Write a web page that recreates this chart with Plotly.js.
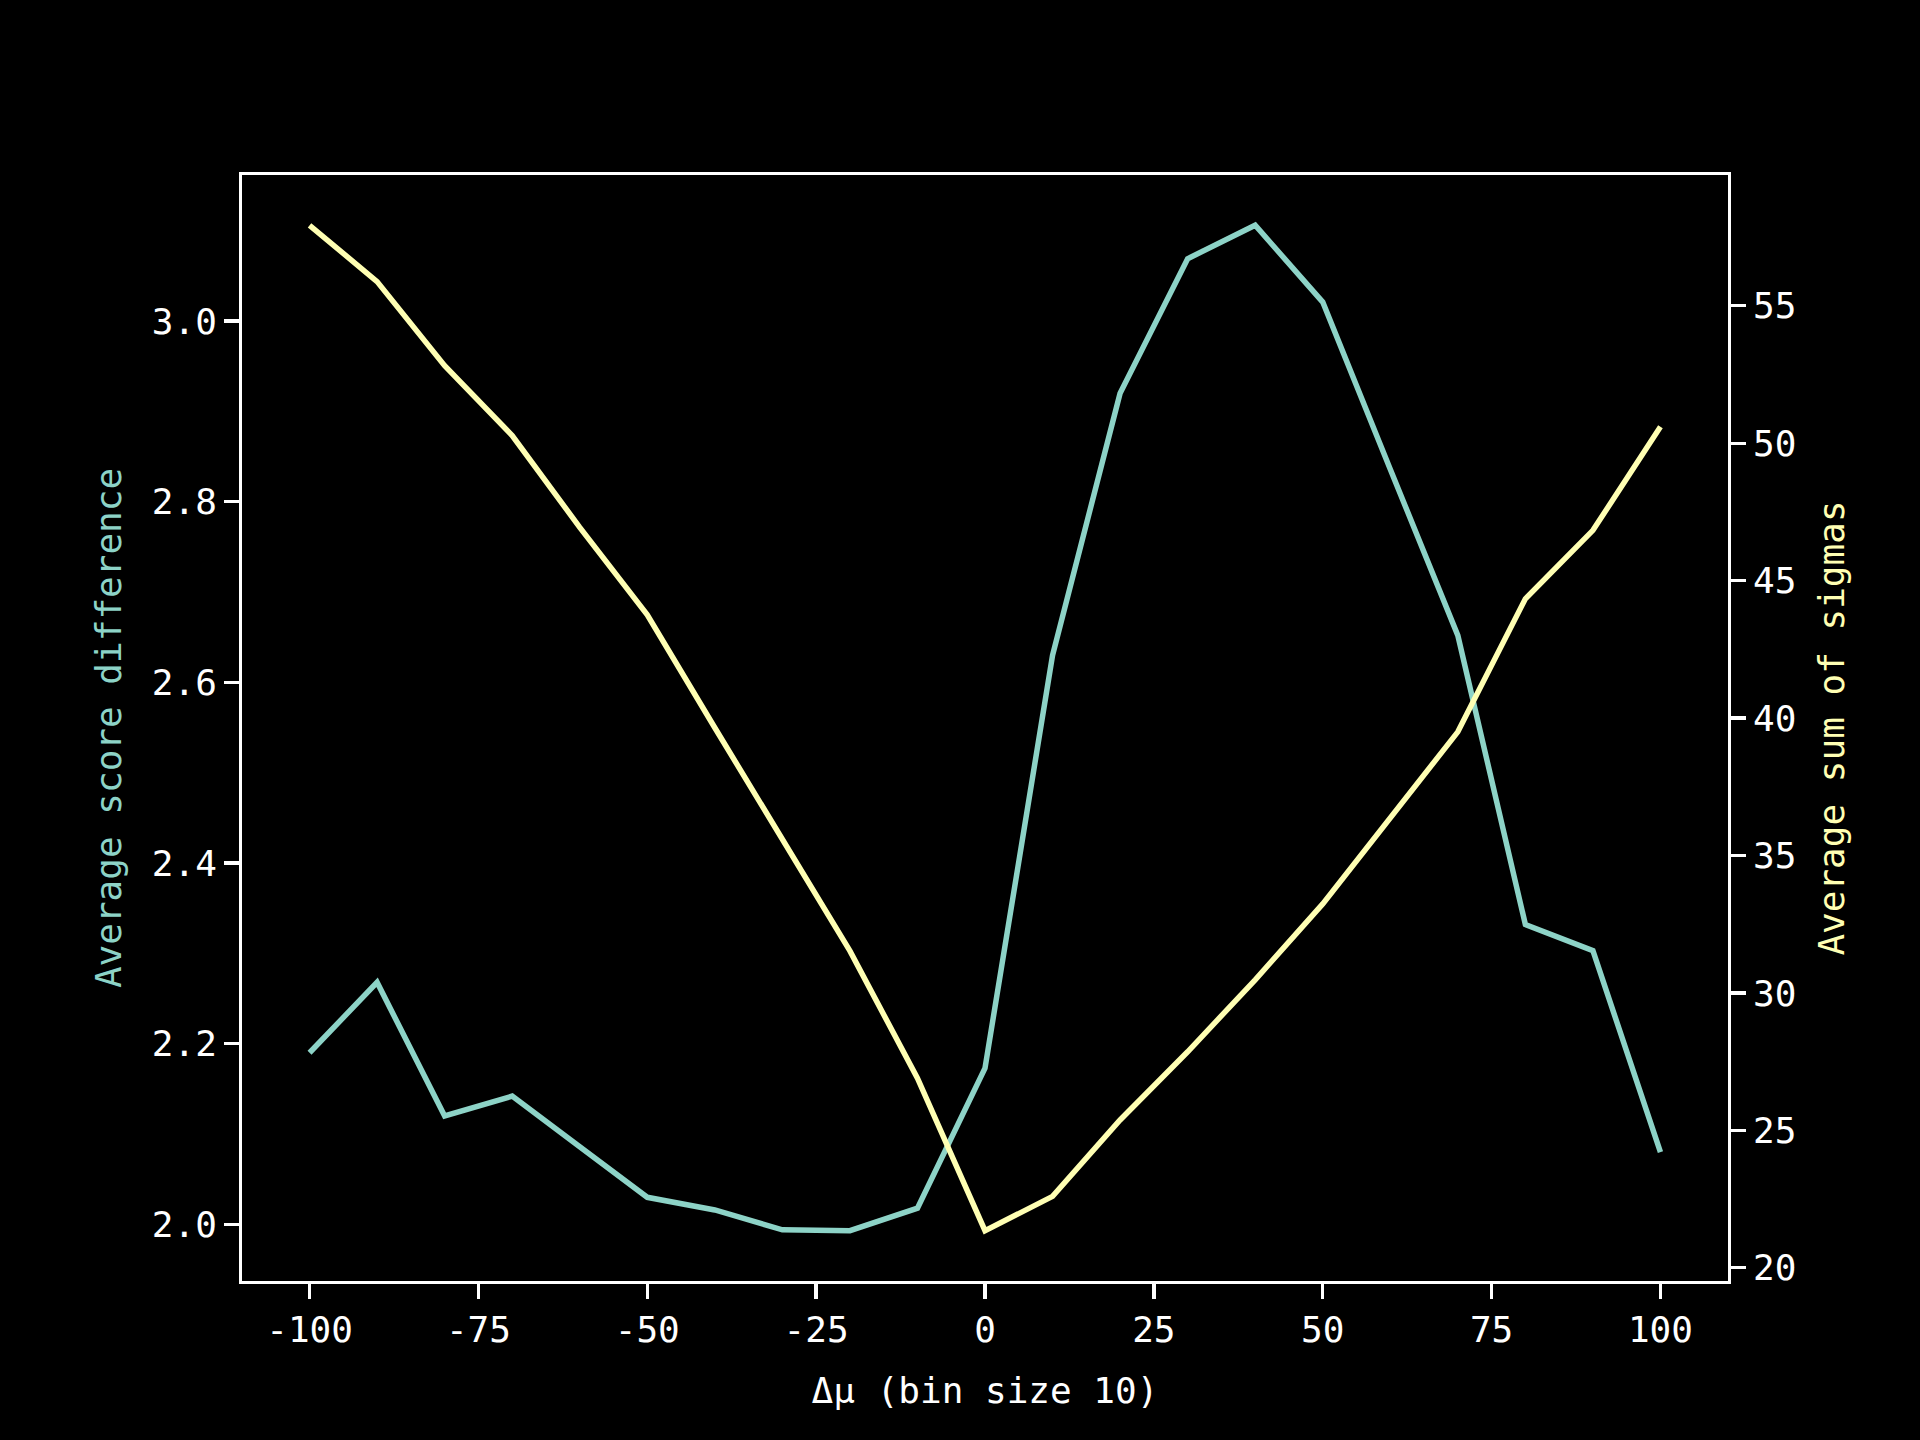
<!DOCTYPE html>
<html>
<head>
<meta charset="utf-8">
<script src="https://cdn.plot.ly/plotly-3.0.1.min.js"></script>
<style>html,body{margin:0;padding:0;background:#000;}#chart{width:1920px;height:1440px;}</style>
</head>
<body>
<div id="chart"></div>
<script>
const deltaMu = [-100,-90,-80,-70,-60,-50,-40,-30,-20,-10,0,10,20,30,40,50,60,70,80,90,100];
const avgScoreDiff = [2.190,2.268,2.120,2.142,2.086,2.030,2.016,1.994,1.993,2.018,2.173,2.630,2.920,3.069,3.106,3.021,2.836,2.652,2.332,2.303,2.080];
const avgSumSigmas = [57.93,55.88,52.82,50.28,46.94,43.76,39.65,35.55,31.53,26.90,21.35,22.60,25.38,27.86,30.48,33.24,36.39,39.50,44.34,46.83,50.60];
const xTicks = [-100,-75,-50,-25,0,25,50,75,100];
const yTicks = [2.0,2.2,2.4,2.6,2.8,3.0];
const y2Ticks = [20,25,30,35,40,45,50,55];

function padRange(arr){const mn=Math.min(...arr),mx=Math.max(...arr);const m=(mx-mn)*0.05;return [mn-m,mx+m];}
const xr = padRange(deltaMu);

const FONT = "DejaVu Sans Mono, monospace";
const teal = "#8dd3c7", yellow = "#ffffb3";
const LW = 3.3, TL = 14.6;

const traces = [
  {x: deltaMu, y: avgScoreDiff, type: 'scatter', mode: 'lines', line: {color: teal, width: 5.5}, yaxis: 'y', showlegend: false},
  {x: deltaMu, y: avgSumSigmas, type: 'scatter', mode: 'lines', line: {color: yellow, width: 5.5}, yaxis: 'y2', showlegend: false}
];

const layout = {
  width: 1920, height: 1440,
  paper_bgcolor: '#000', plot_bgcolor: '#000',
  margin: {l: 242, r: 192, t: 175, b: 159, autoexpand: false},
  font: {family: FONT, size: 36, color: '#fff'},
  showlegend: false,
  xaxis: {
    range: xr, tickvals: xTicks, ticktext: xTicks.map(String),
    showgrid: false, zeroline: false,
    showline: true, linecolor: '#fff', linewidth: LW, mirror: true,
    ticks: 'outside', ticklen: TL, tickwidth: LW, tickcolor: '#fff',
    tickfont: {family: FONT, size: 36, color: '#fff'},
    title: {text: 'Δμ (bin size 10)', font: {family: FONT, size: 36, color: '#fff'}, standoff: 29}
  },
  yaxis: {
    range: padRange(avgScoreDiff), tickvals: yTicks, ticktext: yTicks.map(v => v.toFixed(1)),
    showgrid: false, zeroline: false,
    showline: true, linecolor: '#fff', linewidth: LW, mirror: true,
    ticks: 'outside', ticklen: TL, tickwidth: LW, tickcolor: '#fff',
    tickfont: {family: FONT, size: 36, color: '#fff'},
    title: {text: 'Average score difference', font: {family: FONT, size: 36, color: teal}, standoff: 20}
  },
  yaxis2: {
    range: padRange(avgSumSigmas), tickvals: y2Ticks, ticktext: y2Ticks.map(String),
    overlaying: 'y', side: 'right',
    showgrid: false, zeroline: false,
    showline: true, linecolor: '#fff', linewidth: LW,
    ticks: 'outside', ticklen: TL, tickwidth: LW, tickcolor: '#fff',
    tickfont: {family: FONT, size: 36, color: '#fff'},
    title: {text: 'Average sum of sigmas', font: {family: FONT, size: 36, color: yellow}, standoff: 24}
  }
};

Plotly.newPlot('chart', traces, layout, {staticPlot: true, displayModeBar: false});
</script>
</body>
</html>
